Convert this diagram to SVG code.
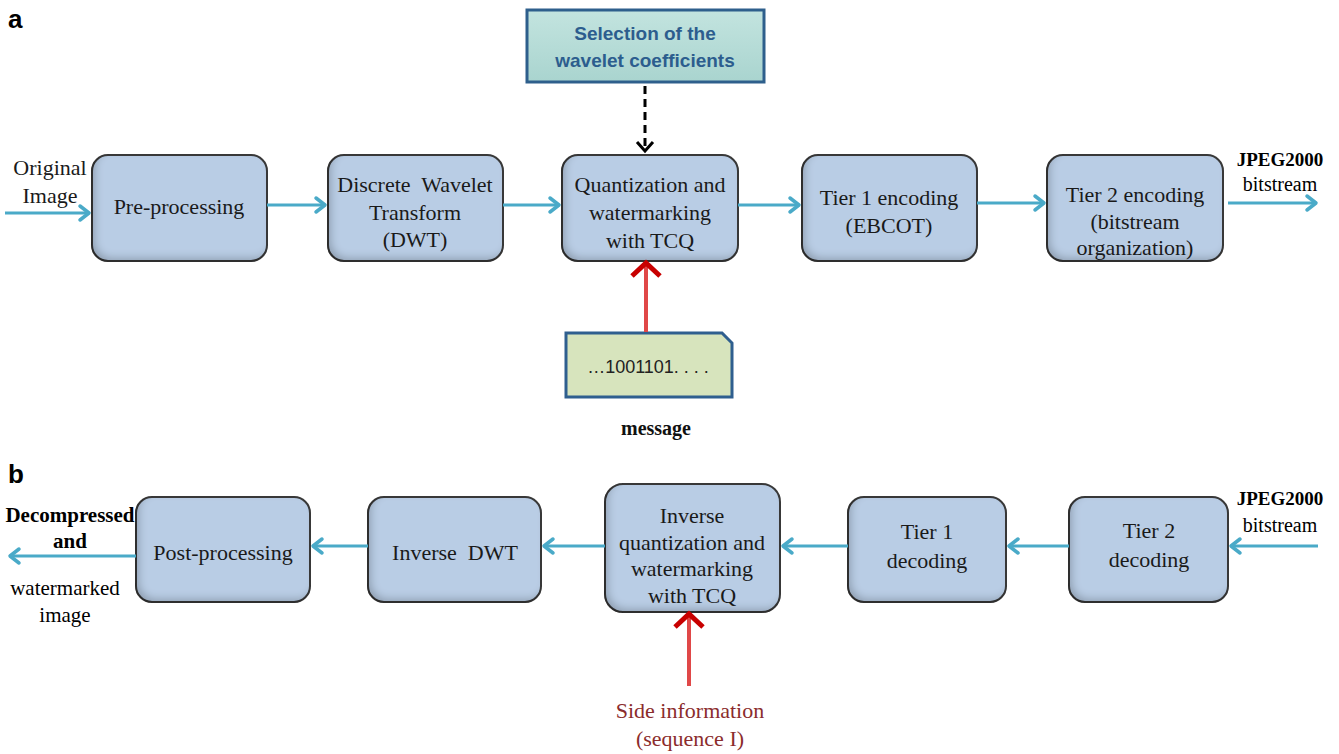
<svg xmlns="http://www.w3.org/2000/svg" width="1339" height="754" viewBox="0 0 1339 754">
<style>
.box{fill:#b9cde5;stroke:#3a3a3a;stroke-width:2}
.t{font-family:"Liberation Serif","Times New Roman",serif;font-size:22px;fill:#1a1a1a;text-anchor:middle}
.lb{font-family:"Liberation Serif","Times New Roman",serif;font-size:21px;fill:#000;text-anchor:middle}
.jb{font-family:"Liberation Serif","Times New Roman",serif;font-size:19px;font-weight:bold;fill:#000;text-anchor:middle}
.bs{font-family:"Liberation Serif","Times New Roman",serif;font-size:20px;fill:#000;text-anchor:middle}
.pl{font-family:"Liberation Sans",Arial,sans-serif;font-size:26px;font-weight:bold;fill:#000}
.cy{stroke:#4aaac8;stroke-width:3;fill:none}
.cyh{stroke:#4aaac8;stroke-width:3.5;fill:none;stroke-linecap:round;stroke-linejoin:round}
.red{stroke:#e04848;stroke-width:4;fill:none}
.redh{stroke:#c80000;stroke-width:5;fill:none;stroke-linejoin:miter}
.sel{font-family:"Liberation Sans",Arial,sans-serif;font-size:19px;font-weight:bold;fill:#2c5d8e;text-anchor:middle}
</style>
<defs>
<filter id="inner" x="-10%" y="-10%" width="120%" height="120%">
 <feComponentTransfer in="SourceAlpha"><feFuncA type="table" tableValues="1 0"/></feComponentTransfer>
 <feGaussianBlur stdDeviation="4"/>
 <feOffset dx="4" dy="-4" result="ob"/>
 <feFlood flood-color="#000" flood-opacity="0.45"/>
 <feComposite in2="ob" operator="in"/>
 <feComposite in2="SourceAlpha" operator="in" result="sh"/>
 <feMerge><feMergeNode in="SourceGraphic"/><feMergeNode in="sh"/></feMerge>
</filter>
<linearGradient id="teal" x1="0" y1="0" x2="0" y2="1">
 <stop offset="0" stop-color="#c3e4df"/><stop offset="1" stop-color="#a9d4cf"/>
</linearGradient>
</defs>

<text class="pl" x="8" y="28">a</text>
<text class="pl" x="8" y="483">b</text>

<!-- Part a nodes -->
<g id="sel">
 <rect x="527" y="10" width="237" height="72" fill="url(#teal)" stroke="#2e5f8c" stroke-width="3"/>
 <text class="sel" x="645" y="40">Selection of the</text>
 <text class="sel" x="645" y="67">wavelet coefficients</text>
</g>
<g id="pre">
 <rect class="box" x="92" y="155" width="175" height="106" rx="16" filter="url(#inner)"/>
 <text class="t" x="179" y="214">Pre-processing</text>
</g>
<g id="dwt">
 <rect class="box" x="328" y="155" width="175" height="106" rx="16" filter="url(#inner)"/>
 <text class="t" x="415" y="192" xml:space="preserve">Discrete  Wavelet</text>
 <text class="t" x="415" y="220">Transform</text>
 <text class="t" x="415" y="247">(DWT)</text>
</g>
<g id="quant">
 <rect class="box" x="562" y="155" width="176" height="106" rx="16" filter="url(#inner)"/>
 <text class="t" x="650" y="192">Quantization and</text>
 <text class="t" x="650" y="220">watermarking</text>
 <text class="t" x="650" y="248">with TCQ</text>
</g>
<g id="tier1e">
 <rect class="box" x="802" y="155" width="175" height="106" rx="16" filter="url(#inner)"/>
 <text class="t" x="889" y="205">Tier 1 encoding</text>
 <text class="t" x="889" y="233">(EBCOT)</text>
</g>
<g id="tier2e">
 <rect class="box" x="1047" y="155" width="176" height="106" rx="16" filter="url(#inner)"/>
 <text class="t" x="1135" y="202">Tier 2 encoding</text>
 <text class="t" x="1135" y="229">(bitstream</text>
 <text class="t" x="1135" y="255">organization)</text>
</g>
<g id="msg">
 <path d="M566,333 H722 L732,343 V397 H566 Z" fill="#d7e4bd" stroke="#2f5f8f" stroke-width="3"/>
 <text x="648" y="373" font-family="'Liberation Sans',Arial,sans-serif" font-size="18" fill="#222" text-anchor="middle">…1001101. . . .</text>
</g>
<text x="656" y="435" font-family="'Liberation Serif','Times New Roman',serif" font-size="20" font-weight="bold" fill="#111" text-anchor="middle">message</text>
<text class="t" x="50" y="175">Original</text>
<text class="t" x="50" y="203">Image</text>
<text class="jb" x="1280" y="166">JPEG2000</text>
<text class="bs" x="1280" y="191">bitstream</text>

<!-- Part b nodes -->
<g id="post">
 <rect class="box" x="136" y="497" width="174" height="105" rx="16" filter="url(#inner)"/>
 <text class="t" x="223" y="560">Post-processing</text>
</g>
<g id="idwt">
 <rect class="box" x="368" y="497" width="173" height="105" rx="16" filter="url(#inner)"/>
 <text class="t" x="455" y="560" xml:space="preserve">Inverse  DWT</text>
</g>
<g id="iquant">
 <rect class="box" x="605" y="484" width="175" height="128" rx="18" filter="url(#inner)"/>
 <text class="t" x="692" y="523">Inverse</text>
 <text class="t" x="692" y="550">quantization and</text>
 <text class="t" x="692" y="576">watermarking</text>
 <text class="t" x="692" y="603">with TCQ</text>
</g>
<g id="tier1d">
 <rect class="box" x="848" y="497" width="158" height="105" rx="16" filter="url(#inner)"/>
 <text class="t" x="927" y="539">Tier 1</text>
 <text class="t" x="927" y="568">decoding</text>
</g>
<g id="tier2d">
 <rect class="box" x="1069" y="497" width="159" height="105" rx="16" filter="url(#inner)"/>
 <text class="t" x="1149" y="538">Tier 2</text>
 <text class="t" x="1149" y="567">decoding</text>
</g>
<text class="lb" x="70" y="522" font-weight="bold">Decompressed</text>
<text class="lb" x="70" y="548" font-weight="bold">and</text>
<text class="lb" x="65" y="595">watermarked</text>
<text class="lb" x="65" y="622">image</text>
<text class="jb" x="1280" y="505">JPEG2000</text>
<text class="bs" x="1280" y="532">bitstream</text>
<text x="690" y="718" font-family="'Liberation Serif','Times New Roman',serif" font-size="22" fill="#8b2c2c" text-anchor="middle">Side information</text>
<text x="690" y="746" font-family="'Liberation Serif','Times New Roman',serif" font-size="22" fill="#8b2c2c" text-anchor="middle">(sequence I)</text>

<!-- connectors -->
<g id="connectors">
 <!-- top row -->
 <line class="cy" x1="5" y1="213" x2="89" y2="213"/><path class="cyh" d="M80,206 L89,213 L80,220"/>
 <line class="cy" x1="267" y1="205" x2="325" y2="205"/><path class="cyh" d="M316,198 L325,205 L316,212"/>
 <line class="cy" x1="503" y1="205" x2="559" y2="205"/><path class="cyh" d="M550,198 L559,205 L550,212"/>
 <line class="cy" x1="738" y1="205" x2="799" y2="205"/><path class="cyh" d="M790,198 L799,205 L790,212"/>
 <line class="cy" x1="977" y1="203" x2="1044" y2="203"/><path class="cyh" d="M1035,196 L1044,203 L1035,210"/>
 <line class="cy" x1="1228" y1="203" x2="1316" y2="203"/><path class="cyh" d="M1307,196 L1316,203 L1307,210"/>
 <!-- dashed -->
 <line x1="645" y1="86" x2="645" y2="149" stroke="#000" stroke-width="3" stroke-dasharray="8,5"/>
 <path d="M637,142 L645,151 L653,142" stroke="#000" stroke-width="3" fill="none"/>
 <!-- red top -->
 <line class="red" x1="646" y1="332" x2="646" y2="264"/>
 <path class="redh" d="M632,276 L646,263 L660,276"/>
 <!-- bottom row -->
 <line class="cy" x1="1318" y1="546" x2="1231" y2="546"/><path class="cyh" d="M1240,539 L1231,546 L1240,553"/>
 <line class="cy" x1="1069" y1="546" x2="1009" y2="546"/><path class="cyh" d="M1018,539 L1009,546 L1018,553"/>
 <line class="cy" x1="848" y1="546" x2="783" y2="546"/><path class="cyh" d="M792,539 L783,546 L792,553"/>
 <line class="cy" x1="605" y1="546" x2="544" y2="546"/><path class="cyh" d="M553,539 L544,546 L553,553"/>
 <line class="cy" x1="368" y1="546" x2="313" y2="546"/><path class="cyh" d="M322,539 L313,546 L322,553"/>
 <line class="cy" x1="136" y1="556" x2="10" y2="556"/><path class="cyh" d="M19,549 L10,556 L19,563"/>
 <!-- red bottom -->
 <line class="red" x1="689" y1="686" x2="689" y2="615"/>
 <path class="redh" d="M675,627 L689,614 L703,627"/>
</g>
</svg>
